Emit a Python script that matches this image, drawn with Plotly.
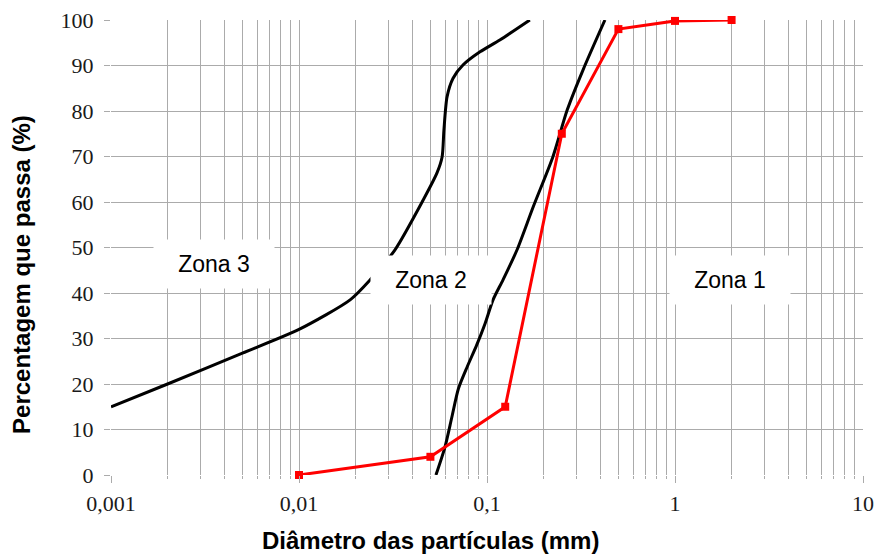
import math
import plotly.graph_objects as go

# Zone boundary curves (particle diameter in mm, percent passing)
zona32_x = [0.001, 0.002, 0.005, 0.01, 0.0187, 0.0239, 0.0324, 0.0457, 0.0542,
            0.0577, 0.059, 0.0613, 0.066, 0.0745, 0.0918, 0.117, 0.169]
zona32_y = [15, 20, 26.8, 32, 38.5, 42.9, 49.5, 60.4, 66.4,
            69.9, 75.8, 83.1, 87.2, 90.1, 93, 95.6, 100]

zona21_x = [0.0535, 0.0598, 0.065, 0.0705, 0.0785, 0.088, 0.0975, 0.1077,
            0.1217, 0.1445, 0.176, 0.224, 0.267, 0.324, 0.424]
zona21_y = [0, 6.2, 12.7, 19.0, 23.8, 28.5, 33.2, 38.5,
            42.9, 49.5, 58.9, 69.9, 80.2, 89, 100]

# Measured grading of the sample
amostra_x = [0.01, 0.05, 0.125, 0.25, 0.5, 1, 2]
amostra_y = [0, 4, 15, 75, 98, 99.8, 100]

# Axis ticks
x_tickvals = [0.001, 0.01, 0.1, 1, 10]
x_ticktext = ["0,001", "0,01", "0,1", "1", "10"]
y_tickvals = [0, 10, 20, 30, 40, 50, 60, 70, 80, 90, 100]

# Zone labels
zonas = ["Zona 3", "Zona 2", "Zona 1"]
zonas_x = [0.00353, 0.0504, 1.963]
zonas_y = [46.4, 42.9, 42.9]

fig = go.Figure()

for xs, ys in [(zona32_x, zona32_y), (zona21_x, zona21_y)]:
    fig.add_trace(go.Scatter(
        x=xs, y=ys, mode="lines",
        line=dict(color="black", width=3, shape="spline", smoothing=0.7),
        showlegend=False, hoverinfo="skip",
    ))

fig.add_trace(go.Scatter(
    x=amostra_x, y=amostra_y, mode="lines+markers",
    line=dict(color="#ff0000", width=3),
    marker=dict(symbol="square", size=8, color="#ff0000"),
    showlegend=False, cliponaxis=False,
))

for txt, zx, zy in zip(zonas, zonas_x, zonas_y):
    fig.add_annotation(
        x=math.log10(zx), y=zy, xref="x", yref="y", text=txt,
        showarrow=False, bgcolor="white", width=118, height=46,
        font=dict(family="Liberation Sans, Arial, sans-serif", size=23, color="black"),
    )

title_font = dict(family="Liberation Sans, Arial, sans-serif", size=24, color="black")
fig.add_annotation(
    text="<b>Diâmetro das partículas (mm)</b>", xref="paper", yref="paper",
    x=0.4255, y=-0.1445, xanchor="center", yanchor="middle",
    showarrow=False, font=title_font,
)
fig.add_annotation(
    text="<b>Percentagem que passa (%)</b>", xref="paper", yref="paper",
    x=-0.1184, y=0.4418, xanchor="center", yanchor="middle", textangle=-90,
    showarrow=False, font=title_font,
)

grid = "#ababab"
tick_font = dict(family="Liberation Serif, Times New Roman, serif", size=22, color="#1a1a1a")
fig.update_layout(
    width=878, height=556,
    margin=dict(l=111, r=15, t=20, b=81),
    paper_bgcolor="white", plot_bgcolor="white",
    showlegend=False,
    xaxis=dict(
        type="log", range=[-3, 1], automargin=False,
        tickvals=x_tickvals, ticktext=x_ticktext,
        showgrid=True, gridcolor=grid, gridwidth=1,
        ticks="outside", ticklen=7, tickcolor=grid,
        minor=dict(dtick="D1", showgrid=True, gridcolor=grid, gridwidth=1,
                   ticks="outside", ticklen=3, tickcolor=grid),
        zeroline=False, showline=False,
        tickfont=tick_font, ticklabelstandoff=2,
    ),
    yaxis=dict(
        range=[0, 100], tickvals=y_tickvals, automargin=False,
        showgrid=True, gridcolor=grid, gridwidth=1,
        ticks="outside", ticklen=6, tickcolor=grid,
        zeroline=False, showline=False,
        tickfont=tick_font, ticklabelstandoff=6,
    ),
)

fig.write_html("out.html")
